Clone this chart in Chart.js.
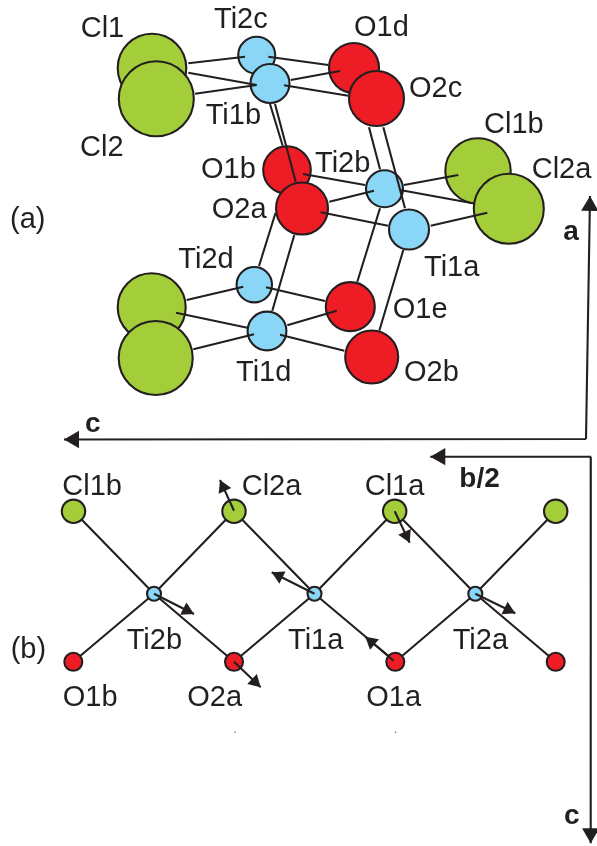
<!DOCTYPE html>
<html>
<head>
<meta charset="utf-8">
<title>Ti-Cl-O structure</title>
<script src="https://cdn.jsdelivr.net/npm/chart.js@4"></script>
<style>
  html, body { margin: 0; padding: 0; background: #fff; }
  canvas { display: block; }
</style>
</head>
<body>
<canvas id="chart" width="597" height="846"></canvas>
<script>
// Atoms, in paint order (later ones cover earlier ones). Figure units, y runs downward.
const atomKinds = ['Cl', 'Cl', 'Ti', 'Ti', 'O', 'O', 'O', 'O', 'Ti', 'Ti', 'Cl', 'Cl',
    'Cl', 'Cl', 'Ti', 'Ti', 'O', 'O',
    'Cl', 'Cl', 'Cl', 'Cl', 'Ti', 'Ti', 'Ti', 'O', 'O', 'O', 'O'];
const atomX = [152, 156.3, 256.7, 270, 354, 376.5, 287, 302, 384.5, 409, 478, 508.8,
    151.7, 155.7, 254.3, 267, 350.3, 371.7,
    73.5, 234, 394.7, 555.7, 154, 314.5, 475.3, 73.3, 234, 395.3, 555.7];
const atomY = [68, 98.7, 55.3, 83.5, 68, 98.5, 170, 208.5, 188.8, 229.5, 171, 208.7,
    307.3, 358, 284.7, 331, 306.6, 357,
    511.3, 511.3, 511.3, 511.3, 593.7, 593.7, 593.7, 661.8, 661.8, 661.8, 661.8];
const atomSize = [34.3, 37.5, 18.5, 19.5, 25, 27.5, 23.8, 26, 18.5, 20, 32.7, 35,
    34, 37, 17.7, 19.4, 24.5, 26.5,
    11.7, 11.7, 11.7, 11.7, 7, 7, 7, 9, 9, 9, 9];

// Upper panel bonds, drawn over the atoms: x1, y1, x2, y2
const bondsUpper = [
    [188.3, 63.3, 245, 56.7], [188.3, 72.7, 256.7, 85], [195, 93.7, 256.7, 85],
    [268.3, 56.7, 328.3, 65], [290.7, 80, 340, 71], [284, 85.3, 348.3, 95.7],
    [270, 104, 282.7, 145.7], [275, 104, 295.7, 181.7],
    [303, 174, 365, 185], [329.3, 201.7, 374, 190.7], [320.7, 212.3, 388, 225.7],
    [404, 185, 458.3, 175], [400, 190, 472.7, 203.3], [430.7, 225.7, 487.3, 212.7],
    [369, 127.3, 380, 169.3], [383.3, 127.3, 405, 208.3],
    [380, 208.3, 357.3, 281.7], [403.3, 250, 379.3, 330.7],
    [275.5, 213, 259, 266], [294.3, 235, 272.3, 310.7],
    [186.7, 300, 243.3, 286.7], [266, 287.3, 325, 301],
    [176, 312.7, 247.3, 327.7], [193.3, 349.3, 254, 334.3],
    [287.3, 325.3, 336.7, 310.7], [280, 334.7, 344.3, 350.7]
];

// Lower panel bonds, drawn under the atoms
const bondsLower = [
    [73.5, 511.3, 154, 593.7], [234, 511.3, 154, 593.7], [73.3, 661.8, 154, 593.7], [234, 661.8, 154, 593.7],
    [234, 511.3, 314.5, 593.7], [394.7, 511.3, 314.5, 593.7], [234, 661.8, 314.5, 593.7], [395.3, 661.8, 314.5, 593.7],
    [394.7, 511.3, 475.3, 593.7], [555.7, 511.3, 475.3, 593.7], [395.3, 661.8, 475.3, 593.7], [555.7, 661.8, 475.3, 593.7]
];

// Displacement arrows: tail x, y, tip x, y
const arrowsLower = [
    [234, 510.7, 220, 480], [154, 593.7, 194, 614], [314.5, 593.7, 271.7, 572.3],
    [234, 661.7, 260.7, 687.3], [394.7, 511.3, 409.7, 542.7],
    [475.3, 593.7, 515.3, 613.3], [393.7, 660.7, 365.3, 636.7]
];

// Crystal axes: each one is an elbow (start, corner, tip) of two arrows
const axisArrows = [
    [586, 439, 590, 196], [586, 439, 64, 439.5],
    [591, 456.7, 430.3, 456.7], [590.8, 456.7, 590.7, 843.3]
];

const specks = [[235, 732.3], [395.7, 732.3]];

const labelText = ['Cl1', 'Ti2c', 'O1d', 'O2c', 'Cl2', 'Ti1b', 'O1b', 'O2a', 'Ti2b', 'Cl1b', 'Cl2a', '(a)',
    'Ti1a', 'O1e', 'Ti2d', 'Ti1d', 'O2b',
    'Cl1b', 'Cl2a', 'Cl1a', 'Ti2b', 'Ti1a', 'Ti2a', '(b)', 'O1b', 'O2a', 'O1a'];
const labelX = [80.7, 214, 354, 409, 80, 205.7, 201, 211.7, 315, 484, 531.7, 10,
    424, 392.7, 178.3, 236, 404,
    62.3, 241.7, 364.7, 126.7, 288, 452.7, 10.7, 62.7, 187.3, 366.3];
const labelY = [36.7, 28.3, 36, 97, 155.7, 124, 177.7, 218, 171.7, 133.3, 178.3, 228,
    275.7, 318.3, 268.3, 380.7, 380.7,
    495, 495, 495, 649, 649, 649, 658, 706, 706, 706];

const axisText = ['a', 'c', 'b/2', 'c'];
const axisTextX = [563.3, 85, 459.3, 564];
const axisTextY = [240, 431.7, 486.7, 824];

const INK = '#231f20';
const ATOM_COLORS = { Cl: '#a4ce39', Ti: '#8ad6f6', O: '#ee1c25' };
const FONT_FAMILY = "'Liberation Sans', Arial, sans-serif";

// a null point breaks the line, so one dataset can hold many separate segments
function toSegments(list) {
    const pts = [];
    list.forEach(s => {
        pts.push({ x: s[0], y: s[1] }, { x: s[2], y: s[3] }, { x: null, y: null });
    });
    return pts;
}

function lineSet(data, width, order) {
    return {
        type: 'line', data, order,
        borderColor: INK, borderWidth: width,
        pointRadius: 0, tension: 0, spanGaps: false, clip: false
    };
}

// arrow heads are rotated triangle markers pulled back from the tip
function headPoints(list, size) {
    return list.map(s => {
        const dx = s[2] - s[0], dy = s[3] - s[1];
        const len = Math.hypot(dx, dy);
        return {
            x: s[2] - dx / len * size,
            y: s[3] - dy / len * size,
            size,
            angle: Math.atan2(dx, -dy) * 180 / Math.PI
        };
    });
}

const smallHeads = headPoints(arrowsLower, 8);
const axisHeads = headPoints(axisArrows, 10);
const allHeads = smallHeads.concat(axisHeads);

const textPlugin = {
    id: 'figureText',
    afterDraw(chart) {
        const { ctx, scales } = chart;
        ctx.save();
        ctx.fillStyle = INK;
        ctx.textAlign = 'left';
        ctx.textBaseline = 'alphabetic';
        ctx.font = '29px ' + FONT_FAMILY;
        labelText.forEach((t, i) => {
            ctx.fillText(t, scales.x.getPixelForValue(labelX[i]), scales.y.getPixelForValue(labelY[i]));
        });
        ctx.font = 'bold 28px ' + FONT_FAMILY;
        axisText.forEach((t, i) => {
            ctx.fillText(t, scales.x.getPixelForValue(axisTextX[i]), scales.y.getPixelForValue(axisTextY[i]));
        });
        ctx.restore();
    }
};

new Chart(document.getElementById('chart'), {
    type: 'bubble',
    data: {
        datasets: [
            lineSet(toSegments(bondsLower), 2.1, 5),
            {
                type: 'bubble',
                order: 4,
                data: atomX.map((x, i) => ({ x, y: atomY[i], r: atomSize[i] })),
                backgroundColor: atomKinds.map(k => ATOM_COLORS[k]),
                borderColor: INK,
                borderWidth: 2.1,
                clip: false
            },
            lineSet(toSegments(bondsUpper), 2.1, 3),
            lineSet(toSegments(arrowsLower), 2.1, 2),
            lineSet(toSegments(axisArrows), 2.1, 2),
            {
                type: 'scatter',
                order: 1,
                data: allHeads.map(h => ({ x: h.x, y: h.y })),
                pointStyle: 'triangle',
                pointRadius: allHeads.map(h => h.size),
                pointRotation: allHeads.map(h => h.angle),
                backgroundColor: INK,
                borderColor: INK,
                borderWidth: 0,
                clip: false
            },
            {
                type: 'scatter',
                order: 1,
                data: specks.map(s => ({ x: s[0], y: s[1] })),
                pointRadius: 0.7,
                backgroundColor: '#555',
                borderWidth: 0
            }
        ]
    },
    options: {
        responsive: false,
        animation: false,
        events: [],
        layout: { padding: 0, autoPadding: false },
        plugins: { legend: { display: false }, tooltip: { enabled: false } },
        scales: {
            x: { type: 'linear', display: false, min: 0, max: 597 },
            y: { type: 'linear', display: false, min: 0, max: 846, reverse: true }
        }
    },
    plugins: [textPlugin]
});
</script>
</body>
</html>
